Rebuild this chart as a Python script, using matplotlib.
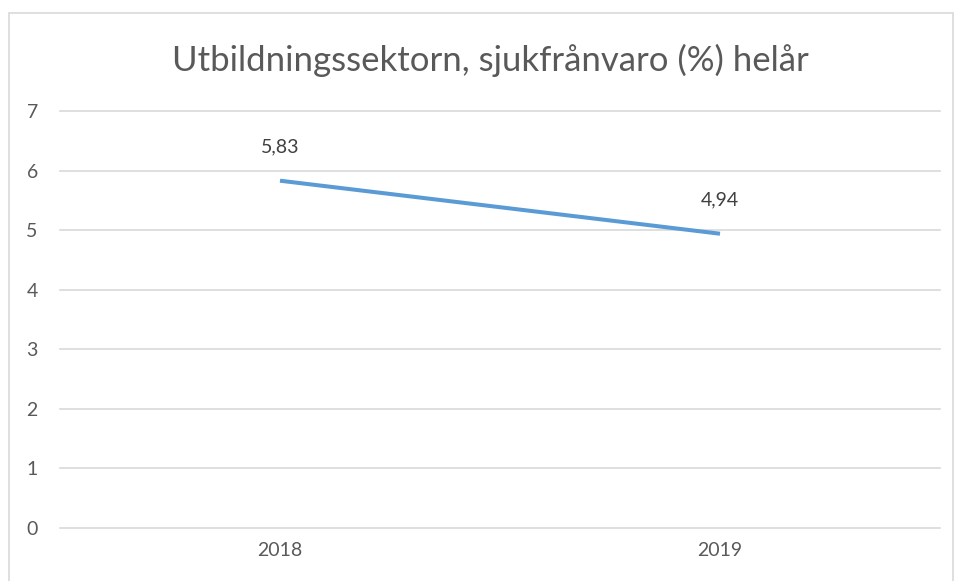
import matplotlib.pyplot as plt
from matplotlib.patches import Rectangle

# Data
years = ["2018", "2019"]
sjukfranvaro = [5.83, 4.94]
y_ticks = [0, 1, 2, 3, 4, 5, 6, 7]
title = "Utbildningssektorn, sjukfrånvaro (%) helår"

plt.rcParams['font.family'] = ['Lato', 'DejaVu Sans']
text_color = "#595959"

fig = plt.figure(figsize=(9.56, 5.81), dpi=100)
ax = fig.add_axes([60 / 956, 1 - 528 / 581, 880 / 956, (528 - 111) / 581])

# ram runt diagrammet
fig.patches.append(Rectangle((9 / 956, -0.05), 944 / 956, 1.05 - 13 / 581,
                             transform=fig.transFigure, fill=False,
                             edgecolor="#D9D9D9", linewidth=1.2))

x = list(range(len(years)))
ax.plot(x, sjukfranvaro, color="#5B9BD5", linewidth=2.9, solid_capstyle="butt")

for xi, v in zip(x, sjukfranvaro):
    ax.annotate(f"{v:.2f}".replace(".", ","), (xi, v), xytext=(0, 18),
                textcoords="offset points", ha="center", va="bottom",
                fontsize=14, color="#404040")

ax.set_xlim(-0.5, 1.5)
ax.set_ylim(0, 7)
ax.set_yticks(y_ticks)
ax.set_xticks(x)
ax.set_xticklabels(years)
ax.yaxis.grid(True, color="#D9D9D9", linewidth=1.2)
for gl in ax.get_ygridlines():
    gl.set_clip_on(False)
ax.set_axisbelow(True)
for s in ax.spines.values():
    s.set_visible(False)
ax.tick_params(axis="both", length=0, labelsize=14, labelcolor=text_color)
ax.tick_params(axis="y", pad=16)
ax.tick_params(axis="x", pad=10)

fig.text(490 / 956, 1 - 60 / 581, title, ha="center", va="center",
         fontsize=25, color=text_color)

fig.savefig("out.png", dpi=100)
